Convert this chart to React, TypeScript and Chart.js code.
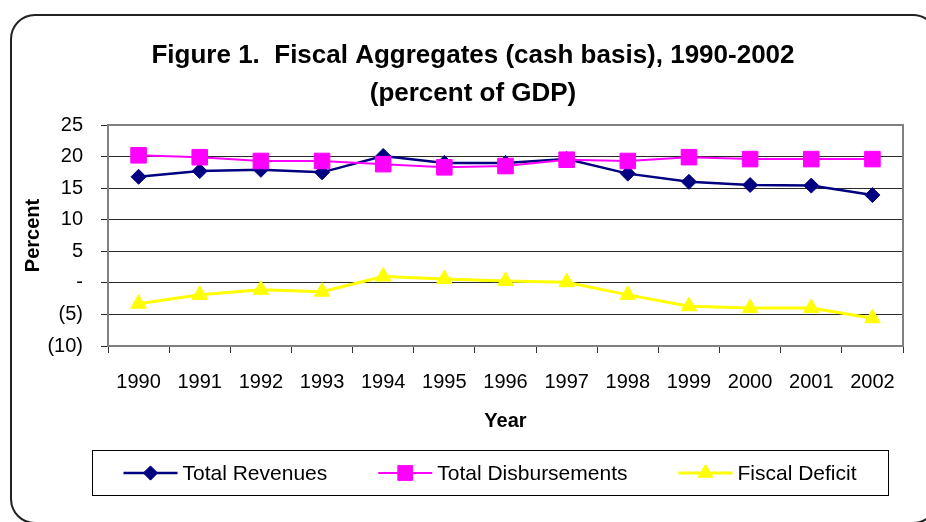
import React, { useEffect, useRef } from 'react';
import { Chart, registerables } from 'chart.js';
import { drawPoint } from 'chart.js/helpers';

Chart.register(...registerables);

const years = ['1990', '1991', '1992', '1993', '1994', '1995', '1996', '1997', '1998', '1999', '2000', '2001', '2002'];
const totalRevenues = [16.8, 17.7, 17.9, 17.5, 20.1, 19.0, 19.0, 19.6, 17.3, 16.0, 15.5, 15.4, 13.9];
const totalDisbursements = [20.2, 19.9, 19.3, 19.3, 18.8, 18.3, 18.5, 19.5, 19.3, 19.9, 19.6, 19.6, 19.6];
const fiscalDeficit = [-3.3, -1.9, -1.1, -1.4, 1.0, 0.6, 0.3, 0.1, -1.9, -3.7, -4.0, -4.0, -5.6];
const yTickValues = [-10, -5, 0, 5, 10, 15, 20, 25];
const yTickLabels = ['(10)', '(5)', '-', '5', '10', '15', '20', '25'];
const titleLines = ['Figure 1.  Fiscal Aggregates (cash basis), 1990-2002', '(percent of GDP)'];
const seriesNames = ['Total Revenues', 'Total Disbursements', 'Fiscal Deficit'];

const FONT = '"Liberation Sans", Arial, Helvetica, sans-serif';

const plotBorderPlugin = {
  id: 'plotBorder',
  beforeDatasetsDraw(chart: any) {
    const { ctx, chartArea } = chart;
    ctx.save();
    ctx.strokeStyle = '#808080';
    ctx.lineWidth = 2;
    ctx.strokeRect(chartArea.left, chartArea.top, chartArea.right - chartArea.left, chartArea.bottom - chartArea.top);
    ctx.restore();
  },
};

const boxLegendPlugin = {
  id: 'boxLegend',
  afterDraw(chart: any) {
    const { ctx, chartArea } = chart;
    const left = chartArea.left - 16;
    const right = chartArea.right - 15;
    const top = chart.height - 72;
    const h = 45;
    ctx.save();
    ctx.strokeStyle = '#000';
    ctx.lineWidth = 1;
    ctx.strokeRect(left + 0.5, top + 0.5, right - left, h);
    ctx.font = `21px ${FONT}`;
    const sample = 54;
    const gapText = 5;
    const gapItem = 51;
    const items = chart.data.datasets.map((ds: any) => ({ ds, w: ctx.measureText(ds.label).width }));
    const total = items.reduce((a: number, it: any) => a + sample + gapText + it.w, 0) + gapItem * (items.length - 1);
    let x = (left + right) / 2 - total / 2;
    const cy = top + h / 2 + 0.5;
    for (const { ds, w } of items) {
      ctx.strokeStyle = ds.borderColor;
      ctx.lineWidth = ds.borderWidth;
      ctx.beginPath();
      ctx.moveTo(x, cy);
      ctx.lineTo(x + sample, cy);
      ctx.stroke();
      ctx.fillStyle = ds.pointBackgroundColor;
      ctx.strokeStyle = ds.pointBorderColor;
      ctx.lineWidth = 1;
      drawPoint(ctx, { pointStyle: ds.pointStyle, radius: ds.pointRadius * 0.95, borderWidth: 1, rotation: 0 } as any, x + sample / 2, cy);
      ctx.fillStyle = '#000';
      ctx.textBaseline = 'middle';
      ctx.textAlign = 'left';
      ctx.fillText(ds.label, x + sample + gapText, cy + 1);
      x += sample + gapText + w + gapItem;
    }
    ctx.restore();
  },
};

export default function App() {
  const canvasRef = useRef<HTMLCanvasElement | null>(null);

  useEffect(() => {
    if (!canvasRef.current) return;
    const chart = new Chart(canvasRef.current, {
      type: 'line',
      data: {
        labels: years,
        datasets: [
          {
            label: seriesNames[0],
            data: totalRevenues,
            borderColor: '#000080',
            backgroundColor: '#000080',
            pointBackgroundColor: '#000080',
            pointBorderColor: '#000080',
            borderWidth: 2.5,
            pointStyle: 'rectRot',
            pointRadius: 7.5,
            pointBorderWidth: 1,
            tension: 0,
            order: 2,
          },
          {
            label: seriesNames[1],
            data: totalDisbursements,
            borderColor: '#FF00FF',
            backgroundColor: '#FF00FF',
            pointBackgroundColor: '#FF00FF',
            pointBorderColor: '#FF00FF',
            borderWidth: 2,
            pointStyle: 'rect',
            pointRadius: 11,
            pointBorderWidth: 1,
            tension: 0,
            order: 1,
          },
          {
            label: seriesNames[2],
            data: fiscalDeficit,
            borderColor: '#FFFF00',
            backgroundColor: '#FFFF00',
            pointBackgroundColor: '#FFFF00',
            pointBorderColor: '#FFFF00',
            borderWidth: 3,
            pointStyle: 'triangle',
            pointRadius: 9,
            pointBorderWidth: 1,
            tension: 0,
            order: 0,
          },
        ],
      } as any,
      options: {
        responsive: false,
        animation: false,
        events: [],
        layout: { padding: { top: 0, left: 43, right: 23, bottom: 85 } },
        plugins: {
          legend: { display: false },
          tooltip: { enabled: false },
          title: {
            display: true,
            text: titleLines,
            color: '#000',
            font: { family: FONT, size: 26, weight: 'bold', lineHeight: 38 / 26 },
            padding: { top: 37, bottom: 12 },
          },
        },
        scales: {
          x: {
            type: 'category',
            offset: true,
            grid: { offset: true, drawOnChartArea: false, drawTicks: true, tickLength: 7, color: '#333', lineWidth: 1 },
            border: { color: '#808080', width: 2 },
            ticks: { color: '#000', font: { family: FONT, size: 20 }, padding: 17, maxRotation: 0, autoSkip: false },
            title: {
              display: true,
              text: 'Year',
              color: '#000',
              font: { family: FONT, size: 20, weight: 'bold' },
              padding: { top: 0, bottom: 4 },
            },
            afterFit: (s: any) => {
              s.height = 91;
            },
          },
          y: {
            min: -10,
            max: 25,
            afterBuildTicks: (s: any) => {
              s.ticks = yTickValues.map((v) => ({ value: v }));
            },
            ticks: {
              color: '#000',
              font: { family: FONT, size: 20 },
              padding: 18,
              callback: (v: any) => {
                const i = yTickValues.indexOf(Number(v));
                return i >= 0 ? yTickLabels[i] : '';
              },
            },
            grid: { color: '#2a2a2a', lineWidth: 1, tickLength: 7, drawTicks: true },
            border: { color: '#808080', width: 2 },
            title: {
              display: true,
              text: 'Percent',
              color: '#000',
              font: { family: FONT, size: 20, weight: 'bold' },
              padding: { top: -22, bottom: 0 },
            },
            afterFit: (s: any) => {
              s.width = 65;
            },
          },
        },
      } as any,
      plugins: [plotBorderPlugin, boxLegendPlugin],
    });
    return () => chart.destroy();
  }, []);

  return (
    <div style={{ position: 'fixed', left: 0, top: 0, width: 926, height: 522, overflow: 'hidden', background: '#fff' }}>
      <div
        style={{
          position: 'absolute',
          left: 10,
          top: 14,
          width: 928,
          height: 510,
          border: '2px solid #222',
          borderRadius: 25,
          boxSizing: 'border-box',
        }}
      />
      <canvas ref={canvasRef} width={926} height={522} style={{ position: 'absolute', left: 0, top: 0, width: 926, height: 522 }} />
    </div>
  );
}
